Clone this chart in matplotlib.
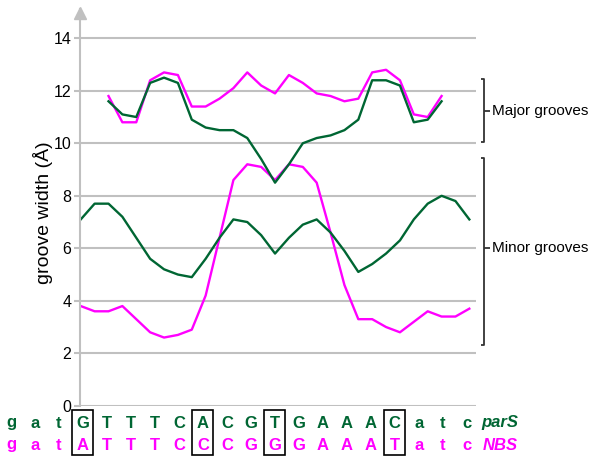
import matplotlib.pyplot as plt
import matplotlib.patches as patches
import numpy as np

plt.rcParams['font.family'] = ['Liberation Sans', 'DejaVu Sans']

green = '#006633'
magenta = '#ff00ff'
grid_c = '#c0c0c0'

# groove widths along the sequence (29 steps for minor, 25 for major)
minor_parS = [7.1, 7.7, 7.7, 7.2, 6.4, 5.6, 5.2, 5.0, 4.9, 5.6, 6.4, 7.1, 7.0, 6.5, 5.8,
              6.4, 6.9, 7.1, 6.6, 5.9, 5.1, 5.4, 5.8, 6.3, 7.1, 7.7, 8.0, 7.8, 7.1]
minor_NBS = [3.8, 3.6, 3.6, 3.8, 3.3, 2.8, 2.6, 2.7, 2.9, 4.2, 6.4, 8.6, 9.2, 9.1, 8.6,
             9.2, 9.1, 8.5, 6.6, 4.6, 3.3, 3.3, 3.0, 2.8, 3.2, 3.6, 3.4, 3.4, 3.7]
major_parS = [11.6, 11.1, 11.0, 12.3, 12.5, 12.3, 10.9, 10.6, 10.5, 10.5, 10.2, 9.4, 8.5,
              9.2, 10.0, 10.2, 10.3, 10.5, 10.9, 12.4, 12.4, 12.2, 10.8, 10.9, 11.6]
major_NBS = [11.8, 10.8, 10.8, 12.4, 12.7, 12.6, 11.4, 11.4, 11.7, 12.1, 12.7, 12.2, 11.9,
             12.6, 12.3, 11.9, 11.8, 11.6, 11.7, 12.7, 12.8, 12.4, 11.1, 11.0, 11.8]

seq_parS = list("gatGTTTCACGTGAAACatc")
seq_NBS = list("gatATTTCCCGGGAAATatc")
boxed = [3, 8, 11, 16]

x_minor = np.arange(len(minor_parS))
x_major = np.arange(len(major_parS)) + 2

W, H = 601, 457
fig = plt.figure(figsize=(W / 100, H / 100), dpi=100)
ax = fig.add_axes([79.5 / W, 1 - 405.8 / H, 396.5 / W, 396.4 / H])

ax.plot(x_minor, minor_NBS, color=magenta, lw=1.7)
ax.plot(x_minor, minor_parS, color=green, lw=1.7)
ax.plot(x_major, major_NBS, color=magenta, lw=1.7)
ax.plot(x_major, major_parS, color=green, lw=1.7)

ax.set_xlim(-0.09, 28.48)
ax.set_ylim(0, 15.1)
ax.set_yticks(range(0, 15, 2))
ax.set_xticks([])
ax.grid(axis='y', color=grid_c, lw=1.5)
ax.set_axisbelow(True)
ax.tick_params(axis='y', length=4, width=1.5, color=grid_c, labelsize=11.5, pad=2)
for s in ['top', 'right', 'bottom']:
    ax.spines[s].set_visible(False)
ax.spines['left'].set_color(grid_c)
ax.spines['left'].set_linewidth(1.5)
# arrow head on the y axis
ax.plot([0], [14.95], marker='^', markersize=9, color=grid_c,
        transform=ax.get_yaxis_transform(), clip_on=False)

fig.text(43 / W, 1 - 213 / H, 'groove width (Å)', rotation=90, fontsize=14,
         ha='center', va='center')

# brackets
def bracket(y0, y1, ym, label):
    bx, sx, tx = 29.06, 28.85, 29.5
    kw = dict(color='#333333', lw=1.3, clip_on=False, solid_capstyle='butt')
    ax.plot([sx, bx, bx, sx], [y0, y0, y1, y1], **kw)
    ax.plot([bx, tx], [ym, ym], **kw)
    ax.text(29.6, ym, label, fontsize=11, ha='left', va='center', clip_on=False)

bracket(10.06, 12.44, 11.24, 'Major grooves')
bracket(2.32, 9.44, 6.03, 'Minor grooves')

# sequences under the plot
for i, (a, b) in enumerate(zip(seq_parS, seq_NBS)):
    px = (11 + 23.98 * i) / W
    fig.text(px, 1 - 423 / H, a, color=green, fontsize=12, fontweight='bold',
             ha='center', va='center')
    fig.text(px, 1 - 445 / H, b, color=magenta, fontsize=12, fontweight='bold',
             ha='center', va='center')
    if i in boxed:
        cx = 11 + 23.98 * i
        fig.patches.append(patches.Rectangle(((cx - 10.5) / W, 1 - 455 / H), 21 / W, 45 / H,
                                             transform=fig.transFigure, fill=False,
                                             ec='black', lw=1.2))
fig.text(500 / W, 1 - 423 / H, 'parS', color=green, fontsize=12, fontweight='bold',
         style='italic', ha='center', va='center')
fig.text(500 / W, 1 - 445 / H, 'NBS', color=magenta, fontsize=12, fontweight='bold',
         style='italic', ha='center', va='center')

fig.savefig('out.png', dpi=100)
